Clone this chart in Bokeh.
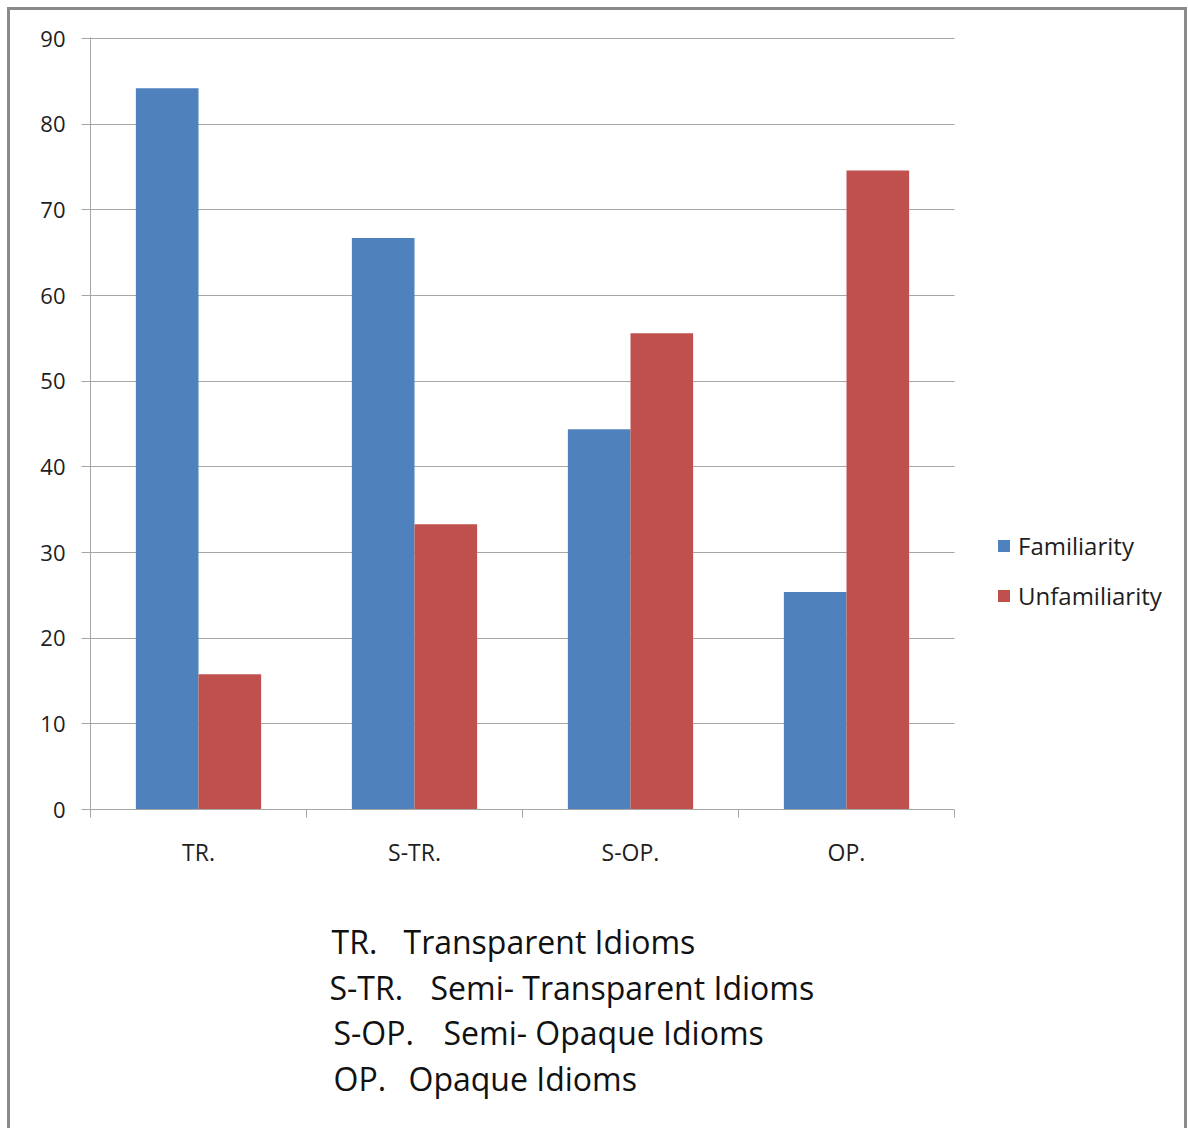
from bokeh.plotting import figure
from bokeh.layouts import column
from bokeh.models import (ColumnDataSource, Range1d, FixedTicker, Legend, LegendItem,
                          BoxAnnotation)
from bokeh.core.properties import value
from bokeh.embed import file_html
from bokeh.resources import INLINE

# Idiom types and response shares (%)
categories = ["TR.", "S-TR.", "S-OP.", "OP."]
familiarity = [84.2, 66.7, 44.4, 25.4]
unfamiliarity = [15.8, 33.3, 55.6, 74.6]
full_names = ["Transparent Idioms", "Semi- Transparent Idioms",
              "Semi- Opaque Idioms", "Opaque Idioms"]
series_names = ["Familiarity", "Unfamiliarity"]
y_ticks = [0, 10, 20, 30, 40, 50, 60, 70, 80, 90]

BLUE = "#4F81BD"
RED = "#C0504D"
GRID = "#a6a6a6"
EDGE = "#8a8a8a"
FONT = "Open Sans"
TEXT = "#1e1e1e"

# inner width of the framed panel and layout of the plotting area
W = 1174
CHART_H, NOTES_H = 900, 218
PAD_L = 80            # room for the value axis
PLOT_W = 864          # width taken by the four category slots
n = len(categories)
x_end = n * (W - PAD_L) / PLOT_W   # frame continues right to hold the legend

centers = [i + 0.5 for i in range(n)]
source = ColumnDataSource(dict(
    x_fam=[c - 0.145 for c in centers],
    x_unf=[c + 0.145 for c in centers],
    fam=familiarity,
    unf=unfamiliarity,
))

p = figure(width=W, height=CHART_H, output_backend="svg", toolbar_location=None,
           x_range=Range1d(0, x_end), y_range=Range1d(0, 90.117),
           min_border_left=PAD_L, min_border_right=0,
           min_border_top=27, min_border_bottom=101)
p.outline_line_color = None
p.background_fill_color = "white"
p.border_fill_color = "white"

r_fam = p.vbar(x="x_fam", top="fam", width=0.29, source=source,
               fill_color=BLUE, line_color=None)
r_unf = p.vbar(x="x_unf", top="unf", width=0.29, source=source,
               fill_color=RED, line_color=None)

# x axis: labels at category centres, tick marks between categories
xax = p.xaxis[0]
xax.bounds = (0, n)
xax.ticker = FixedTicker(ticks=centers, minor_ticks=list(range(n + 1)))
xax.major_label_overrides = {c: lab for c, lab in zip(centers, categories)}
xax.major_tick_line_color = None
xax.minor_tick_line_color = GRID
xax.minor_tick_out = 8
xax.minor_tick_in = 0
xax.axis_line_color = GRID
xax.major_label_standoff = 18
xax.major_label_text_font = FONT
xax.major_label_text_font_size = "23px"
xax.major_label_text_color = TEXT

yax = p.yaxis[0]
yax.ticker = FixedTicker(ticks=y_ticks)
yax.minor_tick_line_color = None
yax.major_tick_line_color = GRID
yax.major_tick_out = 9
yax.major_tick_in = 0
yax.axis_line_color = GRID
yax.major_label_standoff = 16
yax.major_label_text_font = FONT
yax.major_label_text_font_size = "22px"
yax.major_label_text_color = TEXT

p.xgrid.grid_line_color = None
p.ygrid.grid_line_color = GRID
p.ygrid.grid_line_width = 1

# keep the legend column clear of gridlines
p.add_layout(BoxAnnotation(left=n, fill_color="white", fill_alpha=1.0,
                           line_color=None))

legend = Legend(items=[LegendItem(label=series_names[0], renderers=[r_fam]),
                       LegendItem(label=series_names[1], renderers=[r_unf])],
                location=(906, 197),
                glyph_width=15, glyph_height=15, label_height=20,
                label_standoff=7, spacing=17, padding=0, margin=0,
                border_line_color=None, background_fill_alpha=0,
                label_text_font=FONT, label_text_font_size="24px",
                label_text_color=TEXT)
p.add_layout(legend, "center")

# key to the abbreviations below the chart, laid out in pixels
notes = figure(width=W, height=NOTES_H, output_backend="svg", toolbar_location=None,
               x_range=Range1d(PAD_L, W), y_range=Range1d(NOTES_H, 0),
               min_border_left=PAD_L, min_border_right=0,
               min_border_top=0, min_border_bottom=0)
notes.axis.visible = False
notes.grid.visible = False
notes.outline_line_color = None
notes.background_fill_color = "white"
notes.border_fill_color = "white"

abbr_x = [321, 319, 323, 323]
desc_x = [393, 420, 433, 398]
baselines = [31, 77, 122, 168]
notes.text(x=abbr_x, y=baselines, text=categories, text_font=value(FONT),
           text_font_size="32px", text_color="#111111", text_baseline="alphabetic")
notes.text(x=desc_x, y=baselines, text=full_names, text_font=value(FONT),
           text_font_size="32px", text_color="#111111", text_baseline="alphabetic")

layout = column(p, notes, spacing=0,
                styles={"border-top": f"3px solid {EDGE}",
                        "border-left": f"3px solid {EDGE}",
                        "border-right": f"3px solid {EDGE}",
                        "margin": "7px 0 0 7px"})

open("out.html", "w").write(file_html(layout, INLINE))
